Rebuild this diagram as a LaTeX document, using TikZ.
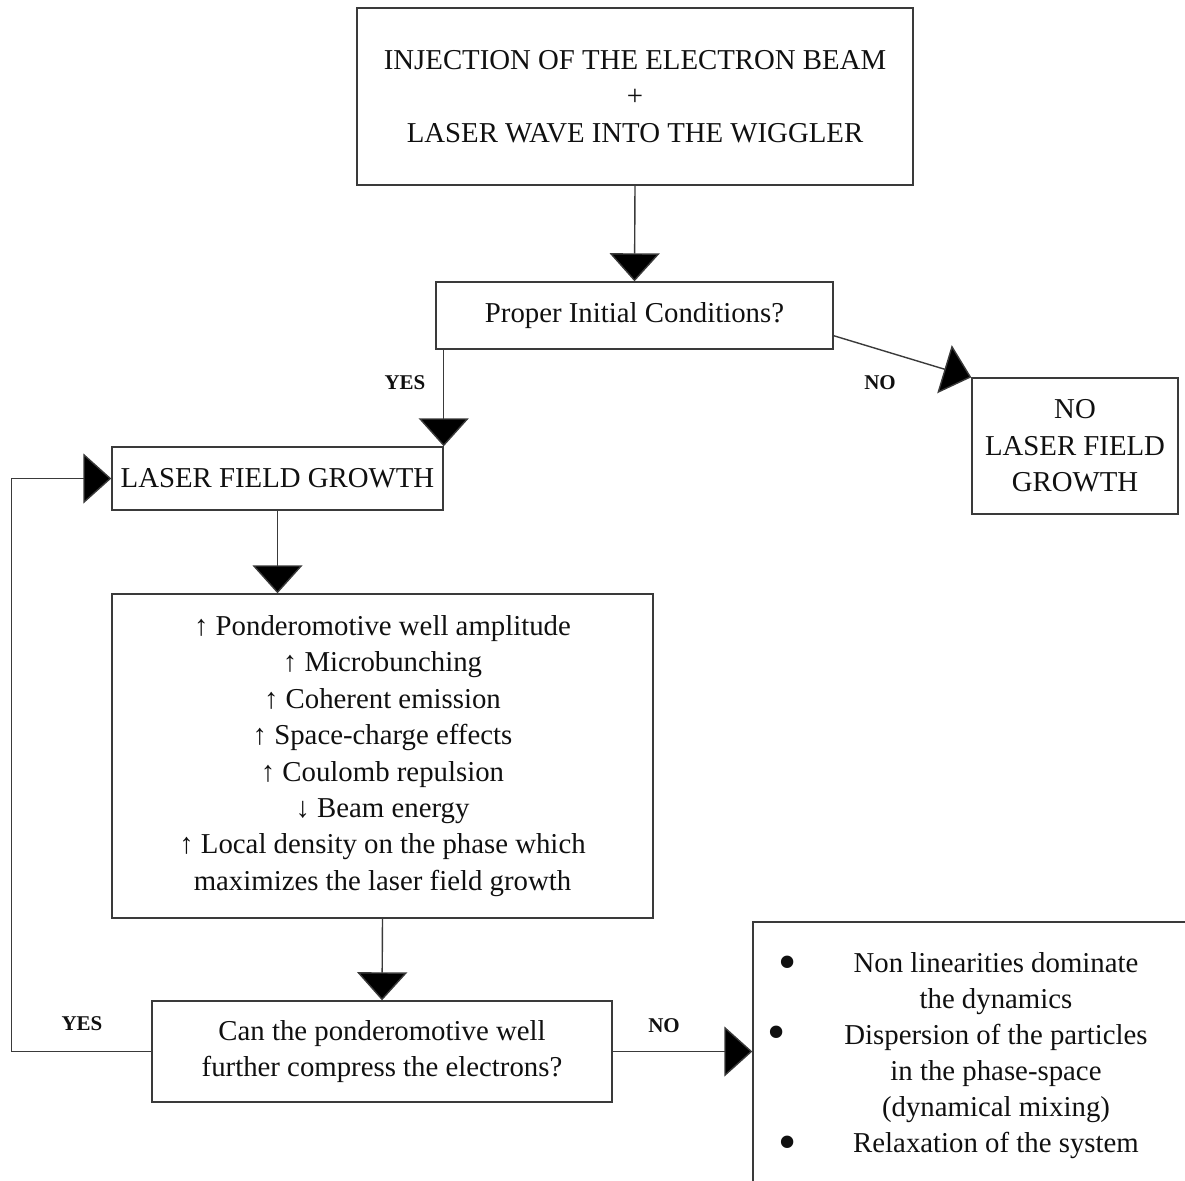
\documentclass[tikz,border=0pt]{standalone}
\usepackage{fontspec}
\setmainfont{Liberation Serif}
\usetikzlibrary{arrows.meta,calc}
\definecolor{Ink}{HTML}{101010}
\definecolor{Edge}{HTML}{3A3A3A}

\begin{document}
\begin{tikzpicture}[x=0.5pt,y=-0.5pt,>={Triangle[length=14pt,width=25pt,fill=black]},
  every node/.style={font=\fontsize{14.4}{18.2}\selectfont,text=Ink},
  box/.style={draw=Edge,line width=0.7pt,align=center,inner sep=0pt},
  flow/.style={->,draw=Edge,line width=0.7pt},
  tag/.style={font=\fontsize{10.5}{13}\selectfont\bfseries},
  dot/.style={font=\fontsize{26}{26}\selectfont,inner sep=0pt}]
      \useasboundingbox (0,0) rectangle (1185,1180);
      \node[box,minimum width=278pt,minimum height=88.5pt] (inject) at (635,96.5)
        {INJECTION OF THE ELECTRON BEAM\\+\\LASER WAVE INTO THE WIGGLER};
      \node[box,minimum width=198.5pt,minimum height=33.5pt] (cond) at (634.5,315.5) {Proper Initial Conditions?};
      \node[box,minimum width=103pt,minimum height=68pt] (nogrowth) at (1075,446) {NO\\LASER FIELD\\GROWTH};
      \node[box,minimum width=165.5pt,minimum height=31.5pt] (growth) at (277.5,478.5) {LASER FIELD GROWTH};
      \node[box,minimum width=270.5pt,minimum height=162pt] (effects) at (382.5,756)
        {↑ Ponderomotive well amplitude\\↑ Microbunching\\↑ Coherent emission\\↑ Space-charge effects\\
         ↑ Coulomb repulsion\\↓ Beam energy\\↑ Local density on the phase which\\maximizes the laser field growth};
      \node[box,minimum width=230pt,minimum height=50.5pt] (compress) at (382,1051.5)
        {Can the ponderomotive well\\further compress the electrons?};
      % open box, cut by the page edge
      \node[box,minimum width=223.5pt,minimum height=139pt] (final) at (976.5,1061) {};
      \node[align=center,font=\fontsize{14.4}{18}\selectfont] (finaltext) at (996,1056)
        {Non linearities dominate\\the dynamics\\Dispersion of the particles\\in the phase-space\\(dynamical mixing)\\Relaxation of the system};
      \node[dot] (bulletA) at (788,968) {\textbullet};
      \node[dot] (bulletB) at (777,1038) {\textbullet};
      \node[dot] (bulletC) at (788,1148) {\textbullet};

      \node[tag] (yesA) at (405,383) {YES};
      \node[tag] (noA) at (880,383) {NO};
      \node[tag] (yesB) at (82,1024) {YES};
      \node[tag] (noB) at (664,1026) {NO};

      \draw[flow] (inject.south) -- (cond.north);
      \draw[flow] (growth.north east |- cond.south) -- (growth.north east);
      \draw[flow] ($(cond.south east)+(0,-14)$) -- (nogrowth.north west);
      \draw[flow] (growth.south) -- (growth.south |- effects.north);
      \draw[flow] (effects.south) -- (compress.north);
      \draw[flow] (compress.east) -- (compress.east -| final.west);
      \draw[flow] (compress.west) -- ++(-140,0) |- (growth.west);
    \end{tikzpicture}
\end{document}
